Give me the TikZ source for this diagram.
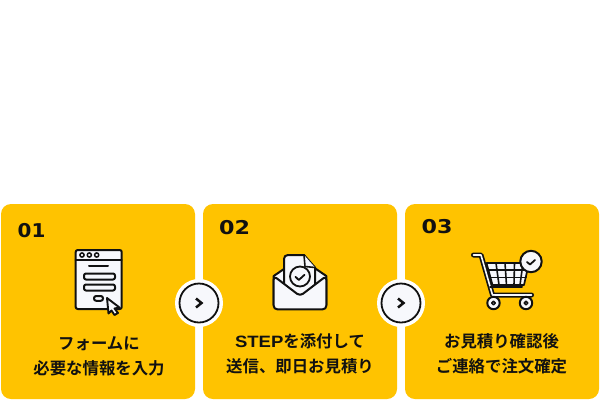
\documentclass[tikz,border=0pt]{standalone}
\usepackage{fontspec}
\setmainfont{Liberation Sans}
\newfontfamily\jpfont{Noto Sans CJK JP}[BoldFont={* Bold}]
\newfontfamily\numfont{DejaVu Sans}[BoldFont={* Bold}]
\newfontfamily\stepfont{Liberation Sans}[BoldFeatures={FakeStretch=1.13}]
\definecolor{cardyellow}{HTML}{FFC300}
\definecolor{ink}{HTML}{111111}
\definecolor{paper}{HTML}{F7F8FC}
\tikzset{
  x=1pt,y=-1pt,
  card/.style={fill=cardyellow,rounded corners=10pt},
  numlabel/.style={inner sep=0pt,font=\numfont\bfseries\fontsize{19}{19}\selectfont,text=ink},
  caption/.style={inner sep=0pt,align=center,text=ink,font=\jpfont\bfseries\fontsize{16.4}{25}\selectfont},
  ico/.style={draw=ink,line width=2pt,fill=paper,line join=round,line cap=round},
  icoline/.style={draw=ink,line width=2pt,line cap=round,line join=round},
  halo/.style={circle,fill=white,minimum size=48pt,inner sep=0pt},
  knob/.style={circle,draw=ink,line width=1.8pt,fill=paper,minimum size=39pt,inner sep=0pt},
}
\begin{document}
\begin{tikzpicture}
\useasboundingbox (0,0) rectangle (600,400);
\fill[white] (0,0) rectangle (600,400);
% cards
\fill[card] (1,204) rectangle (195,399);
\fill[card] (203,204) rectangle (397,399);
\fill[card] (405,204) rectangle (599,399);
% numbers
\node[numlabel,anchor=center,xscale=1.05] (n1) at (31.5,231) {01};
\node[numlabel,anchor=center,xscale=1.17] (n2) at (234.5,228) {02};
\node[numlabel,anchor=center,xscale=1.17] (n3) at (437,227) {03};
% captions
\node[caption] (c1) at (99,356) {フォームに\\必要な情報を入力};
\node[caption] (c2) at (300,354) {{\stepfont\bfseries STEP}を添付して\\送信、即日お見積り};
\node[caption] (c3) at (501.5,354) {お見積り確認後\\ご連絡で注文確定};
% connector knobs
\node[halo] (h1) at (199,303) {};
\node[halo] (h2) at (401,303) {};
\node[knob] (k1) at (199,303) {};
\node[knob] (k2) at (401,303) {};
\foreach \k in {k1,k2}{
  \draw[ink,line width=2.5pt,line cap=butt,line join=miter]
    ([xshift=-3pt,yshift=4.5pt]\k.center) -- ([xshift=2.5pt]\k.center) -- ([xshift=-3pt,yshift=-4.5pt]\k.center);
}
% icon 1: form window
\draw[ico,rounded corners=2pt] (75.7,250) rectangle (121.7,309);
\draw[icoline] (75.7,259.7) -- (121.7,259.7);
\foreach \x in {82,89.3,96.7}{\draw[icoline,line width=1.5pt] (\x,255) circle (2.1);}
\draw[icoline] (89,265.5) -- (108,265.5);
\draw[icoline,rounded corners=2pt] (84,273.5) rectangle (115,279.5);
\draw[icoline,rounded corners=2pt] (84,284.5) rectangle (115,290.5);
\draw[icoline,rounded corners=2.2pt] (94,296) rectangle (103,300.8);
\draw[ico,line width=1.9pt] (107,298) -- (119.5,307.5) -- (114.5,308.5) -- (118,313) -- (114.5,315) -- (111.5,310.5) -- (108.5,313.5) -- cycle;
% icon 2: envelope with document
\draw[ico] (273.7,276) -- (300,258) -- (326.3,276) -- (326.3,305) -- (273.7,305) -- cycle;
\draw[ico] (304,255) -- (288,255) .. controls (285.5,255) and (284,256.5) .. (284,259) -- (284,295) -- (315,295) -- (315,267.5) -- cycle;
\draw[icoline,line width=1.6pt,fill=paper] (304,255) -- (305,266.5) -- (315,267.5);
\draw[ico,line width=1.8pt] (300,276.5) circle (10);
\draw[icoline,line width=1.8pt] (295.5,276.8) -- (298.8,280) -- (304.5,274.8);
\draw[ico,rounded corners=3.5pt] (300,296) -- (273.7,276) -- (273.7,309.3) -- (326.3,309.3) -- (326.3,276) -- cycle;
% icon 3: cart
\draw[icoline,line width=5pt] (473.5,255) -- (481,255) -- (492.5,295) -- (531.5,295);
\draw[paper,line width=1.6pt,line cap=round,line join=round] (473.5,255) -- (481,255) -- (492.5,295) -- (531.5,295);
\draw[ico,line width=1.7pt] (486.5,263) -- (529,263) -- (524,285) -- (492.5,285) -- cycle;
\draw[icoline,line width=1.6pt] (488,270) -- (527.5,270) (490,277.5) -- (526,277.5);
\draw[icoline,line width=1.6pt] (496,263) -- (499,285) (505,263) -- (506.5,285) (514.5,263) -- (514,285) (523,263) -- (520,285);
\draw[icoline,line width=2pt] (490,286.5) -- (522,286.5);
\foreach \x in {493.5,526}{
  \draw[ico,line width=2pt] (\x,303) circle (6.2);
  \draw[icoline,line width=1.5pt] (\x,303) circle (1.8);
}
\draw[ico] (531,261.5) circle (10.7);
\draw[icoline,line width=1.8pt] (527,262) -- (530,264.5) -- (535,260);
\end{tikzpicture}
\end{document}
